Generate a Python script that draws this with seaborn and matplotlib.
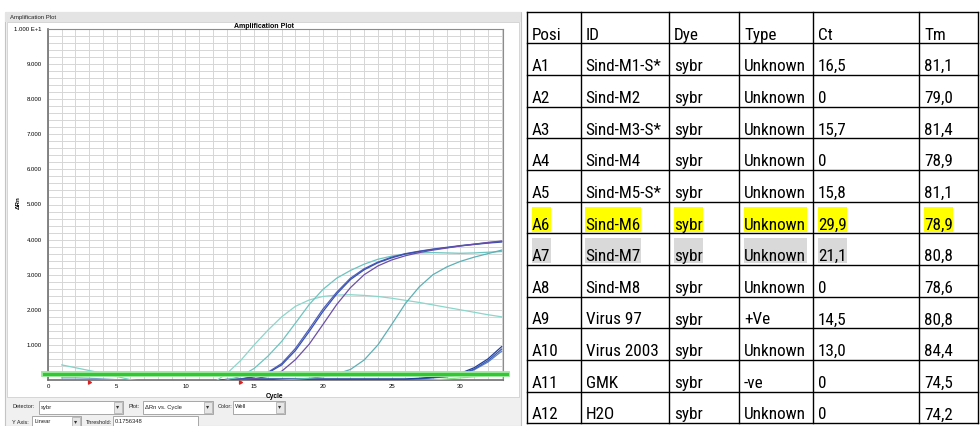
# ========================
# IMPORTS
# ========================
import os
import pandas as pd
import matplotlib
matplotlib.use("Agg")
import matplotlib.pyplot as plt
from matplotlib import font_manager as fm
from matplotlib.patches import Rectangle
import seaborn as sns

# ========================
# DATA
# ========================
cycles = list(range(1, 34))

# delta Rn per cycle, one list per well
virus_2003 = [-0.08] * 12 + [0.18, 0.55, 1.0, 1.42, 1.8, 2.1, 2.28, 2.38, 2.42, 2.43, 2.41,
                             2.38, 2.33, 2.27, 2.21, 2.14, 2.07, 2.0, 1.93, 1.86, 1.8]
virus_97 = [-0.06] * 12 + [0.0, 0.1, 0.33, 0.68, 1.1, 1.62, 2.15, 2.58, 2.9, 3.12, 3.3,
                           3.44, 3.53, 3.59, 3.62, 3.63, 3.62, 3.61, 3.62, 3.64, 3.66]
sind_m3 = [-0.02] * 13 + [0.03, 0.1, 0.22, 0.47, 0.9, 1.45, 2.02, 2.5, 2.9, 3.17,
                          3.36, 3.5, 3.6, 3.67, 3.73, 3.78, 3.83, 3.87, 3.91, 3.95]
sind_m5 = [-0.02] * 13 + [0.02, 0.09, 0.2, 0.43, 0.84, 1.38, 1.95, 2.45, 2.86, 3.14,
                          3.34, 3.48, 3.59, 3.66, 3.72, 3.77, 3.82, 3.86, 3.9, 3.93]
sind_m1 = [-0.02] * 13 + [0.0, 0.04, 0.1, 0.25, 0.58, 1.02, 1.58, 2.15, 2.63, 3.0,
                          3.25, 3.42, 3.54, 3.63, 3.7, 3.76, 3.82, 3.87, 3.92, 3.96]
sind_m7 = [-0.03] * 16 + [0.0, 0.02, 0.05, 0.09, 0.17, 0.3, 0.57, 1.0, 1.58, 2.18,
                          2.65, 3.0, 3.22, 3.38, 3.5, 3.6, 3.7]
sind_m6 = [-0.03] * 12 + [0.02] + [0.03] * 13 + [0.05, 0.08, 0.12, 0.19, 0.35, 0.6, 0.95]
sind_m2 = [-0.03] * 13 + [0.02] * 13 + [0.04, 0.07, 0.1, 0.16, 0.31, 0.55, 0.88]
sind_m4 = [-0.03] * 13 + [0.01] * 13 + [0.03, 0.06, 0.09, 0.15, 0.29, 0.51, 0.82]
sind_m8 = [-0.02] * 27 + [0.0, 0.03, 0.06, 0.09, 0.13, 0.17]
gmk = [0.43, 0.35, 0.27, 0.19, 0.1, 0.01] + [-0.05] * 27
h2o = [0.06, 0.06, 0.05, 0.03, 0.01, -0.02] + [-0.04] * 27

threshold = 0.1756348
baseline_cycles = [3, 14]

# results table
headers = ["Posi", "ID", "Dye", "Type", "Ct", "Tm"]
posi = ["A1", "A2", "A3", "A4", "A5", "A6", "A7", "A8", "A9", "A10", "A11", "A12"]
sample_id = ["Sind-M1-S*", "Sind-M2", "Sind-M3-S*", "Sind-M4", "Sind-M5-S*", "Sind-M6",
             "Sind-M7", "Sind-M8", "Virus 97", "Virus 2003", "GMK", "H2O"]
dye = ["sybr"] * 12
well_type = ["Unknown"] * 8 + ["+Ve", "Unknown", "-ve", "Unknown"]
ct = ["16,5", "0", "15,7", "0", "15,8", "29,9", "21,1", "0", "14,5", "13,0", "0", "0"]
tm = ["81,1", "79,0", "81,4", "78,9", "81,1", "78,9", "80,8", "78,6", "80,8", "84,4",
      "74,5", "74,2"]

# ========================
# LONG FORMAT
# ========================
curves = {
    "A11": gmk, "A12": h2o, "A8": sind_m8, "A4": sind_m4, "A2": sind_m2, "A6": sind_m6,
    "A10": virus_2003, "A9": virus_97, "A7": sind_m7,
    "A3": sind_m3, "A5": sind_m5, "A1": sind_m1,
}
df = pd.concat(
    [pd.DataFrame({"cycle": cycles, "drn": vals, "well": well}) for well, vals in curves.items()],
    ignore_index=True,
)

palette = {
    "A11": "#80d2c6", "A12": "#7f9fcb", "A8": "#8fe08f", "A4": "#5b7cc4", "A2": "#3a5cb2",
    "A6": "#213f9c", "A10": "#8ad6ca", "A9": "#6cc4c0", "A7": "#5cb0b6",
    "A3": "#4c60bb", "A5": "#3a4fae", "A1": "#6b4fa8",
}


# ========================
# FONTS
# ========================
def narrow_font():
    # the table text in the screenshot is squeezed, look for a condensed face
    skip = ["bold", "light", "thin", "black", "medium", "italic", "oblique", "heavy",
            "extracondensed", "ultracondensed", "extra", "ultra"]
    prefs = ["liberationsansnarrow", "robotocondensed", "notosans", "opensans", "dejavusans",
             "arimo", "lato"]
    best, best_rank = None, None
    for f in fm.fontManager.ttflist:
        base = os.path.basename(f.fname).lower().replace("-", "").replace("_", "")
        is_narrow = ("narrow" in base or "condensed" in base or "cond" in base
                     or f.stretch in ("condensed", "semi-condensed"))
        if not is_narrow or f.style != "normal":
            continue
        if any(w in base for w in skip):
            continue
        rank = len(prefs)
        for i, p in enumerate(prefs):
            if base.startswith(p):
                rank = i
                break
        if "semi" in base:
            rank += 0.5
        if best_rank is None or rank < best_rank:
            best, best_rank = f.fname, rank
    return best


ui = ["Liberation Sans", "DejaVu Sans"]
narrow = narrow_font()
if narrow:
    cell_fp = fm.FontProperties(fname=narrow)
else:
    cell_fp = fm.FontProperties(family=["Liberation Sans", "DejaVu Sans"])

# ========================
# FIGURE
# ========================
W, H = 980, 426
fig = plt.figure(figsize=(W / 100, H / 100), dpi=100)
fig.patch.set_facecolor("white")

# background axes in pixel units (screenshot chrome + table)
bg = fig.add_axes([0, 0, 1, 1])
bg.set_xlim(0, W)
bg.set_ylim(H, 0)
bg.axis("off")

bg.add_patch(Rectangle((5, 12), 516, 414, fc="#f0f0f0", ec="#c4c4c4", lw=0.8))
bg.add_patch(Rectangle((5, 12), 516, 10, fc="#e4e4e4", ec="none"))
bg.add_patch(Rectangle((7, 22), 512, 375, fc="white", ec="#d0d0d0", lw=0.6))
bg.text(10, 17, "Amplification Plot", fontsize=4.3, family=ui, va="center", color="#222222")


def combo(x0, x1, y0, y1, label, arrow=True):
    bg.add_patch(Rectangle((x0, y0), x1 - x0, y1 - y0, fc="white", ec="#9a9a9a", lw=0.6))
    bg.text(x0 + 2, (y0 + y1) / 2, label, fontsize=4.2, family=ui, va="center", color="#222222")
    if arrow:
        bg.add_patch(Rectangle((x1 - 9, y0 + 1), 8, y1 - y0 - 2, fc="#e6e6e6", ec="#a8a8a8", lw=0.5))
        bg.text(x1 - 5, (y0 + y1) / 2, "▾", fontsize=4.5, family=["DejaVu Sans"],
                ha="center", va="center", color="#333333")


for x, y, lab in [(12, 407, "Detector:"), (128, 407, "Plot:"), (218, 407, "Color:"),
                  (12, 422, "Y Axis:"), (86, 422, "Threshold:")]:
    bg.text(x, y, lab, fontsize=4.0, family=ui, va="center", color="#222222")
combo(39, 123, 400.5, 413.5, dye[0])
combo(143, 213, 400.5, 413.5, "ΔRn vs. Cycle")
combo(233, 285, 400.5, 413.5, "Well")
combo(32, 81, 415.5, 428, "Linear")
combo(113, 198, 415.5, 428, f"{threshold:.7f}", arrow=False)

# ========================
# AMPLIFICATION PLOT
# ========================
ax = fig.add_axes([48 / W, 1 - 380 / H, (503 - 48) / W, (380 - 29) / H])
ax.set_zorder(2)
ax.set_facecolor("white")

sns.lineplot(data=df, x="cycle", y="drn", hue="well", units="well", estimator=None,
             palette=palette, linewidth=0.9, legend=False, ax=ax, zorder=3)

ax.axhline(threshold, color="#9be89b", lw=4.2, xmin=-0.008, xmax=1.008, clip_on=False, zorder=4)
ax.axhline(threshold, color="#33c833", lw=2.2, xmin=-0.008, xmax=1.008, clip_on=False, zorder=5)
ax.scatter(baseline_cycles, [-0.07] * len(baseline_cycles), marker=(3, 0, 30), s=7,
           color="#e02020", clip_on=False, zorder=6)

ax.set_xlim(0, 33.1)
ax.set_ylim(0, 10)
ax.set_xticks([0, 5, 10, 15, 20, 25, 30])
ax.set_xticks(range(0, 34), minor=True)
ax.set_yticks(range(1, 11))
ax.set_yticks([i / 5 for i in range(0, 51)], minor=True)
ax.set_yticklabels([f"{v:.3f}" for v in range(1, 10)] + ["1.000 E+1"])
ax.grid(which="both", color="#d6d6d6", lw=0.7)
ax.set_axisbelow(True)
ax.tick_params(which="both", length=0)
ax.tick_params(axis="y", pad=4.5, labelsize=4.3)
ax.tick_params(axis="x", pad=3.0, labelsize=4.3)
for lab in ax.get_xticklabels() + ax.get_yticklabels():
    lab.set_family(ui)
ax.set_xlabel("")
ax.set_ylabel("")
for side in ["left", "bottom"]:
    ax.spines[side].set_color("#707070")
    ax.spines[side].set_linewidth(1.2)
for side in ["top", "right"]:
    ax.spines[side].set_color("#8c8c8c")
    ax.spines[side].set_linewidth(0.8)

fig.text(264 / W, 1 - 28 / H, "Amplification Plot", fontsize=5, weight="bold", family=ui,
         ha="center", va="baseline")
fig.text(18.5 / W, 1 - 203 / H, "ΔRn", fontsize=4.5, weight="bold", family=ui,
         rotation=90, ha="center", va="center")
fig.text(275 / W, 1 - 398 / H, "Cycle", fontsize=4.8, weight="bold", family=ui,
         ha="center", va="baseline")

# ========================
# RESULTS TABLE
# ========================
col_x = [527, 580.7, 669, 739, 813, 919, 978]
top, row_h = 11.7, 31.66
n_rows = len(posi) + 1
bottom = top + n_rows * row_h

# size the cell font so that "Unknown" is as wide as in the screenshot (~62 px)
probe = bg.text(0, 0, "Unknown", fontproperties=cell_fp, fontsize=12.5)
fig.canvas.draw()
probe_w = probe.get_window_extent(fig.canvas.get_renderer()).width
probe.remove()
cell_size = min(14.0, 12.5 * 62.0 / probe_w)

for x in col_x:
    bg.plot([x, x], [top, bottom], color="black", lw=1.0, solid_capstyle="projecting")
for r in range(n_rows + 1):
    bg.plot([col_x[0], col_x[-1]], [top + r * row_h] * 2, color="black", lw=1.0,
            solid_capstyle="projecting")

rows = [headers] + [list(r) for r in zip(posi, sample_id, dye, well_type, ct, tm)]
highlight = {6: ("#ffff00", 6), 7: ("#d9d9d9", 5)}  # table row -> (colour, n cells)

texts = []
for r, row in enumerate(rows):
    yb = top + (r + 1) * row_h - 3.8
    for c, val in enumerate(row):
        t = bg.text(col_x[c] + 5, yb, val, fontproperties=cell_fp, fontsize=cell_size,
                    va="baseline", ha="left", color="black", zorder=3)
        if r in highlight and c < highlight[r][1]:
            texts.append((t, r, highlight[r][0]))

fig.canvas.draw()
renderer = fig.canvas.get_renderer()
for t, r, colour in texts:
    bb = t.get_window_extent(renderer)
    bg.add_patch(Rectangle((bb.x0 - 0.5, top + r * row_h + 5), bb.x1 - bb.x0 + 1, 25,
                           fc=colour, ec="none", zorder=1))

fig.savefig("out.png", dpi=100)
